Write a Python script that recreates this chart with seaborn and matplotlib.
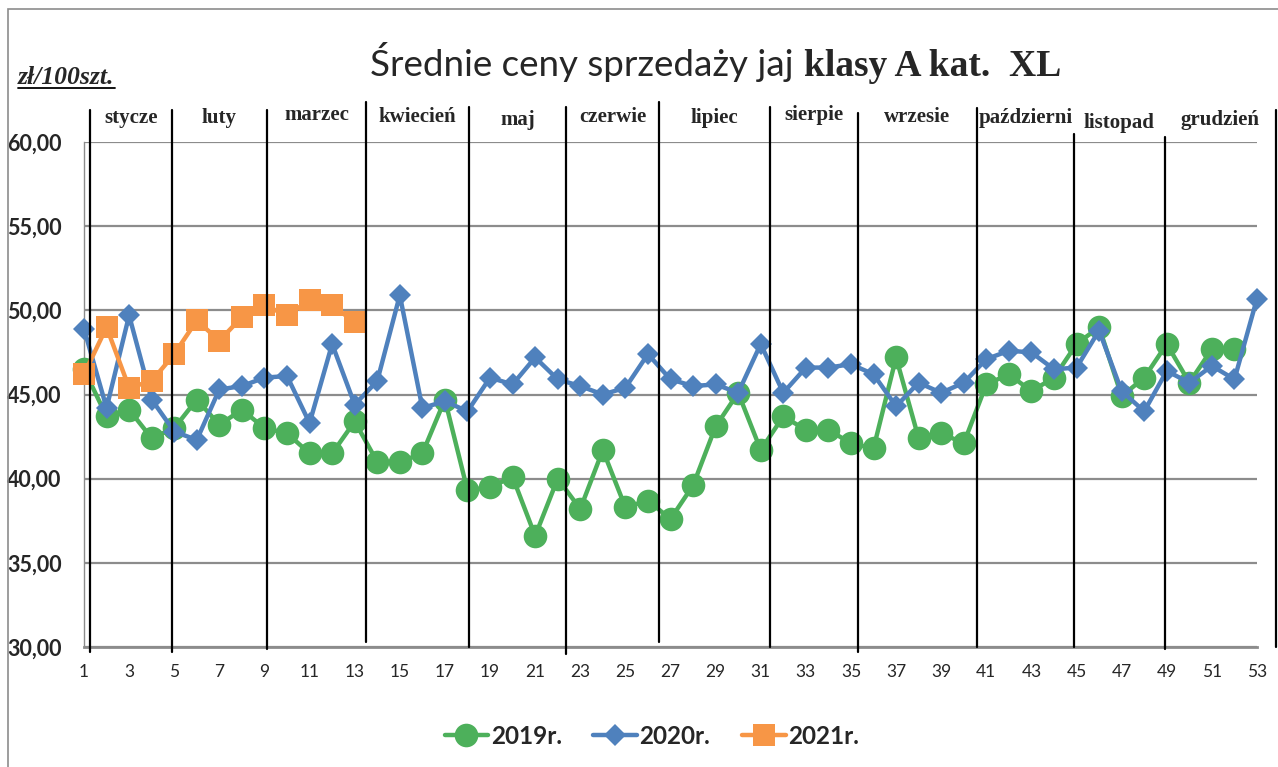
import numpy as np
import pandas as pd
import seaborn as sns
import matplotlib.pyplot as plt
from matplotlib.lines import Line2D
from matplotlib.patches import Rectangle

# Średnie ceny tygodniowe (zł/100 szt.)
weeks_2019 = list(range(1, 53))
prices_2019 = [46.5, 43.7, 44.1, 42.4, 43.0, 44.7, 43.2, 44.1, 43.0, 42.7,
               41.5, 41.5, 43.4, 41.0, 41.0, 41.5, 44.7, 39.3, 39.5, 40.1,
               36.6, 40.0, 38.2, 41.7, 38.3, 38.7, 37.6, 39.6, 43.1, 45.1,
               41.7, 43.7, 42.9, 42.9, 42.1, 41.8, 47.2, 42.4, 42.7, 42.1,
               45.6, 46.2, 45.2, 46.0, 48.0, 49.0, 44.9, 46.0, 48.0, 45.7,
               47.7, 47.7]
weeks_2020 = list(range(1, 54))
prices_2020 = [48.9, 44.2, 49.7, 44.7, 42.8, 42.3, 45.3, 45.5, 46.0, 46.1,
               43.3, 48.0, 44.4, 45.8, 50.9, 44.2, 44.6, 44.0, 46.0, 45.6,
               47.2, 45.9, 45.5, 45.0, 45.4, 47.4, 45.9, 45.5, 45.6, 45.1,
               48.0, 45.1, 46.6, 46.6, 46.8, 46.2, 44.3, 45.7, 45.1, 45.7,
               47.1, 47.6, 47.5, 46.5, 46.6, 48.8, 45.2, 44.0, 46.4, 45.7,
               46.7, 45.9, 50.7]
weeks_2021 = list(range(1, 14))
prices_2021 = [46.2, 49.0, 45.4, 45.8, 47.4, 49.4, 48.2, 49.6, 50.3, 49.7,
               50.6, 50.3, 49.3]

series_names = ['2019r.', '2020r.', '2021r.']
months = ['stycze', 'luty', 'marzec', 'kwiecień', 'maj', 'czerwie', 'lipiec',
          'sierpie', 'wrzesie', 'październi', 'listopad', 'grudzień']
x_ticks = list(range(1, 54, 2))
y_ticks = [30, 35, 40, 45, 50, 55, 60]

# hand drawn month separators: week position, top and bottom end (price units)
sep_x = [1.27, 4.9, 9.11, 13.5, 18.07, 22.37, 26.49, 31.4, 35.3, 40.58, 44.88, 48.92, 53.84]
sep_top = [61.9, 61.9, 61.9, 62.4, 62.1, 62.1, 62.4, 62.1, 61.7, 62.0, 60.5, 60.3, 61.9]
sep_bottom = [29.7, 29.7, 29.9, 30.3, 30.0, 29.6, 30.3, 30.0, 29.7, 30.0, 30.0, 29.9, 30.0]
month_y = [61.45, 61.45, 61.6, 61.5, 61.3, 61.5, 61.45, 61.6, 61.5, 61.45, 61.15, 61.3]

df = pd.concat([
    pd.DataFrame({'week': weeks_2019, 'price': prices_2019, 'rok': series_names[0]}),
    pd.DataFrame({'week': weeks_2020, 'price': prices_2020, 'rok': series_names[1]}),
    pd.DataFrame({'week': weeks_2021, 'price': prices_2021, 'rok': series_names[2]}),
])

sns.set_style('white')
plt.rcParams['font.family'] = ['Lato', 'DejaVu Sans']

W, H = 1278, 767
fig = plt.figure(figsize=(W / 100, H / 100), dpi=100)
ax = fig.add_axes([84 / W, 1 - 647 / H, (1257 - 84) / W, (647 - 142) / H])

# chart border
fig.patches.append(Rectangle((8 / W, -0.1), 1.2, 1.1 - 9 / H, transform=fig.transFigure,
                             fill=False, edgecolor='#8c8c8c', lw=1.2))

styles = {
    '2019r.': ('#4DB05B', 'o', 17),
    '2020r.': ('#4F81BD', 'D', 11.5),
    '2021r.': ('#F79646', 's', 15.5),
}
for z, name in enumerate(series_names):
    col, mk, ms = styles[name]
    sns.lineplot(data=df[df['rok'] == name], x='week', y='price', ax=ax,
                 color=col, marker=mk, markersize=ms, markeredgewidth=0,
                 linewidth=3.2, label=name, errorbar=None, clip_on=False,
                 zorder=3 + z)

ax.set_xlim(1, 53)
ax.set_ylim(30, 60)
ax.set_xticks(x_ticks)
ax.set_yticks(y_ticks)
ax.set_yticklabels([f'{v:.2f}'.replace('.', ',') for v in y_ticks])
ax.set_xlabel('')
ax.set_ylabel('')
ax.tick_params(axis='x', length=0, pad=12, labelsize=12.5)
ax.tick_params(axis='y', length=0, pad=16, labelsize=15.5)
for lab in ax.get_yticklabels():
    lab.set_fontweight('bold')

ax.yaxis.grid(True, color='#8c8c8c', lw=1.6)
ax.xaxis.grid(False)
for s in ['top', 'right']:
    ax.spines[s].set_visible(False)
ax.spines['left'].set_color('#8c8c8c')
ax.spines['left'].set_linewidth(1)
ax.spines['bottom'].set_color('#8c8c8c')
ax.spines['bottom'].set_linewidth(2)

# month separators and names
for x, t, b in zip(sep_x, sep_top, sep_bottom):
    ax.plot([x, x], [b, t], color='black', lw=1.6, clip_on=False, zorder=10)
for i, m in enumerate(months):
    xm = (sep_x[i] + sep_x[i + 1]) / 2
    ax.text(xm, month_y[i], m, ha='center', va='center', family='Liberation Serif',
            fontweight='bold', fontsize=15, clip_on=False, zorder=11)

# legend
handles, labels = ax.get_legend_handles_labels()
ax.get_legend().remove()
fig.legend(handles, labels, loc='center', bbox_to_anchor=(0.51, 0.04), ncol=3,
           frameon=False, prop={'weight': 'bold', 'size': 17.5},
           handlelength=1.8, handletextpad=0.1, columnspacing=1.3)

# title in two fonts
fig.canvas.draw()
r = fig.canvas.get_renderer()
yb = 1 - 76 / H
t1 = fig.text(370 / W, yb, 'Średnie ceny sprzedaży jaj', fontsize=26.5, va='baseline')
bb = t1.get_window_extent(r)
fig.text((bb.x1 + 10) / W, yb, 'klasy A kat.  XL', family='Liberation Serif',
         fontweight='bold', fontsize=27, va='baseline')

# unit label, underlined
u = fig.text(18 / W, 1 - 84 / H, 'zł/100szt.', family='Liberation Serif',
             fontweight='bold', style='italic', fontsize=18.5, va='baseline')
ub = u.get_window_extent(r)
fig.lines.append(Line2D([ub.x0 / W, ub.x1 / W], [(H - 88) / H] * 2,
                        transform=fig.transFigure, color='black', lw=1.3))

fig.savefig('out.png', dpi=100)
